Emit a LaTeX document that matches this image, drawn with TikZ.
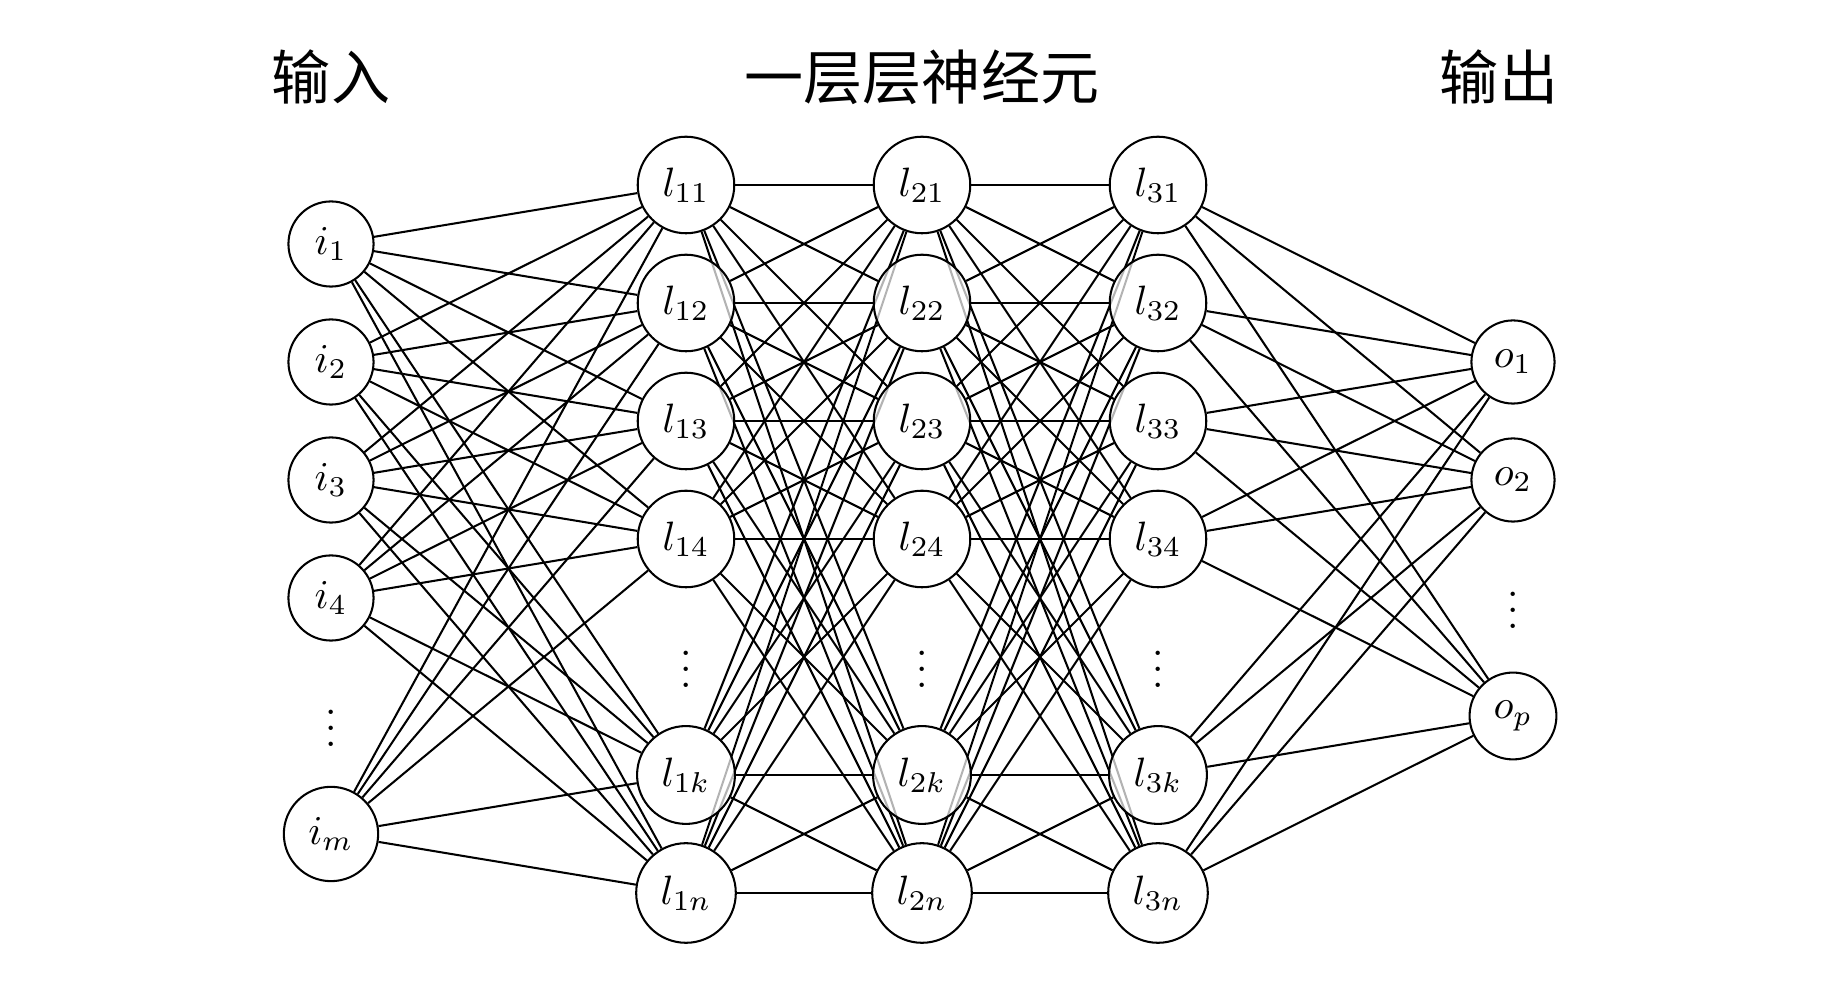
\documentclass[tikz,border=0pt]{standalone}
\usepackage{fontspec}
\newfontfamily\cjk{Noto Sans CJK SC}
\usetikzlibrary{backgrounds}
\begin{document}
\begin{tikzpicture}[x=0.2439pt,y=-0.2439pt,
  neuron/.style={circle,draw,line width=0.5pt,fill=white,fill opacity=0.7,text opacity=1},
  conn/.style={line width=0.5pt},
  dotsnode/.style={inner sep=0pt},
  title/.style={font=\cjk\Large}]
\useasboundingbox (0,0) rectangle (1834,996);
% titles
\node[title] (tin) at (331,77) {输入};
\node[title] (tmid) at (922,77) {一层层神经元};
\node[title] (tout) at (1499,77) {输出};
% input layer
\foreach \a/\y in {1/244,2/362,3/480,4/598,m/834}
  \node[neuron] (i\a) at (331,\y) {$i_{\a}$};
\node[dotsnode] (di) at (331,716) {$\vdots$};
% hidden layers
\foreach \c/\x in {1/686,2/922,3/1158}{
  \foreach \r/\y in {1/185,2/303,3/421,4/539,k/775,n/893}
    \node[neuron] (l\c\r) at (\x,\y) {$l_{\c\r}$};
  \node[dotsnode] (dl\c) at (\x,657) {$\vdots$};
}
% output layer
\foreach \a/\y in {1/362,2/480,p/716}
  \node[neuron] (o\a) at (1513,\y) {$o_{\a}$};
\node[dotsnode] (do) at (1513,598) {$\vdots$};
% connections
\begin{scope}[on background layer]
\foreach \a in {1,2,3,4,m}
  \foreach \b in {1,2,3,4,k,n}
    \draw[conn] (i\a) -- (l1\b);
\foreach \a in {1,2,3,4,k,n}
  \foreach \b in {1,2,3,4,k,n}{
    \draw[conn] (l1\a) -- (l2\b);
    \draw[conn] (l2\a) -- (l3\b);
  }
\foreach \a in {1,2,3,4,k,n}
  \foreach \b in {1,2,p}
    \draw[conn] (l3\a) -- (o\b);
\end{scope}
\end{tikzpicture}
\end{document}
